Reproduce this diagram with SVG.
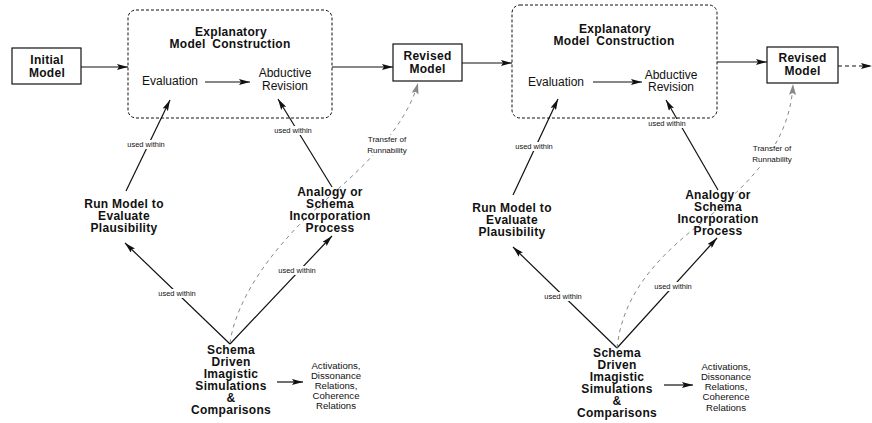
<svg xmlns="http://www.w3.org/2000/svg" width="872" height="423" viewBox="0 0 872 423">
<style>
text{font-family:"Liberation Sans",Arial,sans-serif;fill:#111;text-anchor:middle}
.b{font-weight:bold;font-size:12px;letter-spacing:0.3px}
.n{font-size:12px}
.s{font-size:7.5px}
.t{font-size:8px}
.a{font-size:9.6px}
.bg{fill:#fff}
.box{fill:#fff;stroke:#111;stroke-width:1.2}
.dbox{fill:none;stroke:#111;stroke-width:1;stroke-dasharray:3,2}
.ln{fill:none;stroke:#111;stroke-width:1.2;marker-end:url(#ah)}
.gd{fill:none;stroke:#888;stroke-width:1;stroke-dasharray:4,4;marker-end:url(#gh)}
</style>
<defs>
<marker id="ah" markerUnits="userSpaceOnUse" markerWidth="12" markerHeight="6" refX="11" refY="3" orient="auto">
<path d="M0,0 L11,3 L0,6 L2,3 z" fill="#111"/>
</marker>
<marker id="gh" markerUnits="userSpaceOnUse" markerWidth="12" markerHeight="8" refX="11" refY="4" orient="auto">
<path d="M0,0.5 L11,4 L0,7.5 L2,4 z" fill="#888"/>
</marker>
</defs>

<g id="connectors">
<line class="ln" x1="81" y1="67" x2="128" y2="67"/>
<line class="ln" x1="205" y1="82" x2="250" y2="82"/>
<line class="ln" x1="332" y1="67" x2="393" y2="67"/>
<line class="ln" x1="462" y1="63" x2="512" y2="63"/>
<line class="ln" x1="593" y1="82" x2="642" y2="82"/>
<line class="ln" x1="717" y1="62" x2="767" y2="62"/>
<line class="ln" x1="838" y1="66" x2="872" y2="66" style="stroke-dasharray:4,3"/>
<line class="ln" x1="126" y1="191" x2="170" y2="100"/>
<line class="ln" x1="332" y1="187" x2="278" y2="99"/>
<line class="ln" x1="230" y1="344" x2="125" y2="243"/>
<line class="ln" x1="230" y1="344" x2="332" y2="236"/>
<line class="ln" x1="277" y1="382" x2="303" y2="382"/>
<path class="gd" d="M230,343 C236,300 270,250 320,205 C360,170 405,130 418,83"/>
<line class="ln" x1="513" y1="195" x2="558" y2="99"/>
<line class="ln" x1="718" y1="190" x2="666" y2="100"/>
<line class="ln" x1="617" y1="348" x2="513" y2="247"/>
<line class="ln" x1="617" y1="348" x2="717" y2="238"/>
<line class="ln" x1="664" y1="385" x2="693" y2="385"/>
<path class="gd" d="M617,348 C622,300 650,265 690,232 C740,192 790,150 793,84"/>
<rect class="bg" x="127" y="140" width="38" height="9"/>
<text class="s" x="146" y="147">used within</text>
<rect class="bg" x="274" y="126" width="38" height="9"/>
<text class="s" x="293" y="133">used within</text>
<rect class="bg" x="158" y="289" width="38" height="9"/>
<text class="s" x="177" y="296">used within</text>
<rect class="bg" x="278" y="266" width="38" height="9"/>
<text class="s" x="297" y="273">used within</text>
<rect class="bg" x="366" y="135" width="42" height="20"/>
<text class="t" x="387" y="142">Transfer of</text>
<text class="t" x="387" y="153">Runnability</text>
<rect class="bg" x="515" y="142" width="38" height="9"/>
<text class="s" x="534" y="149">used within</text>
<rect class="bg" x="648" y="119" width="38" height="9"/>
<text class="s" x="667" y="126">used within</text>
<rect class="bg" x="544" y="292" width="38" height="9"/>
<text class="s" x="563" y="299">used within</text>
<rect class="bg" x="654" y="282" width="38" height="9"/>
<text class="s" x="673" y="289">used within</text>
<rect class="bg" x="751" y="144" width="42" height="20"/>
<text class="t" x="772" y="151">Transfer of</text>
<text class="t" x="772" y="162">Runnability</text>
</g>

<g id="initial-model">
<rect class="box" x="12" y="48" width="69" height="36"/>
<text class="b" x="47" y="64">Initial</text>
<text class="b" x="47" y="77">Model</text>
</g>

<g id="emc1">
<rect class="dbox" x="128" y="10" width="204" height="108" rx="8"/>
<text class="b" x="231" y="36">Explanatory</text>
<text class="b" x="230" y="48" style="word-spacing:3px">Model Construction</text>
</g>
<g id="evaluation1"><text class="n" x="170" y="85">Evaluation</text></g>
<g id="abductive1">
<text class="n" x="285" y="77">Abductive</text>
<text class="n" x="285" y="90">Revision</text>
</g>

<g id="revised1">
<rect class="box" x="393" y="44" width="69" height="37"/>
<text class="b" x="427.5" y="60">Revised</text>
<text class="b" x="427.5" y="73">Model</text>
</g>

<g id="runmodel1">
<text class="b" x="124" y="208">Run Model to</text>
<text class="b" x="124" y="220">Evaluate</text>
<text class="b" x="124" y="232">Plausibility</text>
</g>
<g id="analogy1">
<text class="b" x="330" y="196">Analogy or</text>
<text class="b" x="330" y="208">Schema</text>
<text class="b" x="330" y="220">Incorporation</text>
<text class="b" x="330" y="232">Process</text>
</g>
<g id="schema1">
<text class="b" x="231" y="354">Schema</text>
<text class="b" x="231" y="366">Driven</text>
<text class="b" x="231" y="378">Imagistic</text>
<text class="b" x="231" y="390">Simulations</text>
<text class="b" x="231" y="402">&amp;</text>
<text class="b" x="231" y="414">Comparisons</text>
</g>
<g id="activations1">
<text class="a" x="336" y="368.5">Activations,</text>
<text class="a" x="336" y="378.5">Dissonance</text>
<text class="a" x="336" y="388.5">Relations,</text>
<text class="a" x="336" y="398.5">Coherence</text>
<text class="a" x="336" y="409">Relations</text>
</g>

<g id="emc2">
<rect class="dbox" x="512" y="5" width="205" height="113" rx="8"/>
<text class="b" x="615" y="33">Explanatory</text>
<text class="b" x="614" y="45" style="word-spacing:3px">Model Construction</text>
</g>
<g id="evaluation2"><text class="n" x="556" y="86">Evaluation</text></g>
<g id="abductive2">
<text class="n" x="671" y="79">Abductive</text>
<text class="n" x="671" y="91">Revision</text>
</g>

<g id="revised2">
<rect class="box" x="767" y="47" width="71" height="36"/>
<text class="b" x="802.5" y="62">Revised</text>
<text class="b" x="802.5" y="75">Model</text>
</g>

<g id="runmodel2">
<text class="b" x="512" y="212">Run Model to</text>
<text class="b" x="512" y="224">Evaluate</text>
<text class="b" x="512" y="236">Plausibility</text>
</g>
<g id="analogy2">
<text class="b" x="718" y="199">Analogy or</text>
<text class="b" x="718" y="211">Schema</text>
<text class="b" x="718" y="223">Incorporation</text>
<text class="b" x="718" y="235">Process</text>
</g>
<g id="schema2">
<text class="b" x="617" y="357">Schema</text>
<text class="b" x="617" y="369">Driven</text>
<text class="b" x="617" y="381">Imagistic</text>
<text class="b" x="617" y="393">Simulations</text>
<text class="b" x="617" y="405">&amp;</text>
<text class="b" x="617" y="417">Comparisons</text>
</g>
<g id="activations2">
<text class="a" x="726" y="369.5">Activations,</text>
<text class="a" x="726" y="379.5">Dissonance</text>
<text class="a" x="726" y="389.5">Relations,</text>
<text class="a" x="726" y="400">Coherence</text>
<text class="a" x="726" y="410.5">Relations</text>
</g>
</svg>
